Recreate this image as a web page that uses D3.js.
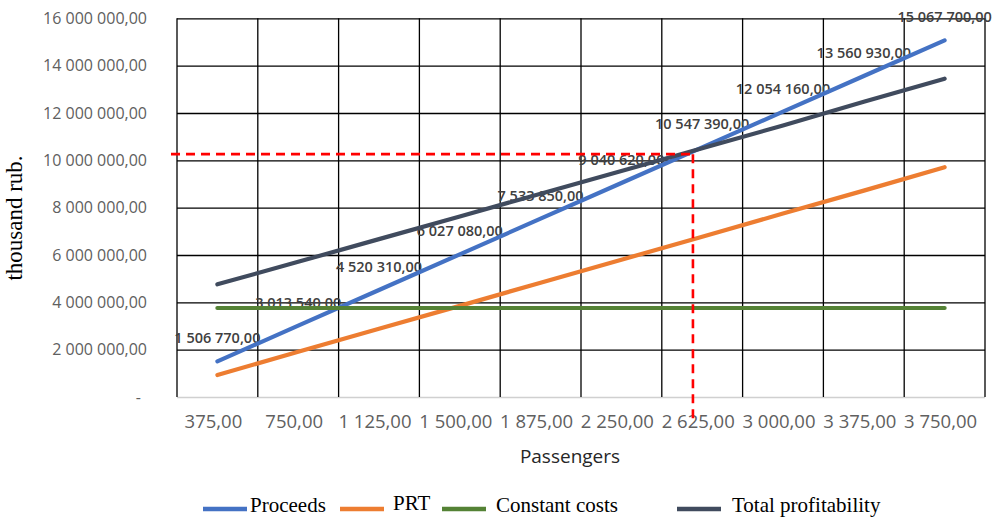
<!DOCTYPE html>
<html><head><meta charset="utf-8">
<script src="https://cdn.jsdelivr.net/npm/d3@7"></script>
<style>body{margin:0;background:#fff} svg{display:block}</style>
</head><body><svg id="c" width="1000" height="521"></svg>
<script>
const passengers = [375, 750, 1125, 1500, 1875, 2250, 2625, 3000, 3375, 3750];
const xTickLabels = ["375,00", "750,00", "1 125,00", "1 500,00", "1 875,00", "2 250,00", "2 625,00", "3 000,00", "3 375,00", "3 750,00"];
const yTickValues = [0, 2000000, 4000000, 6000000, 8000000, 10000000, 12000000, 14000000, 16000000];
const yTickLabels = ["-", "2 000 000,00", "4 000 000,00", "6 000 000,00", "8 000 000,00", "10 000 000,00", "12 000 000,00", "14 000 000,00", "16 000 000,00"];
const proceeds = [1506770, 3013540, 4520310, 6027080, 7533850, 9040620, 10547390, 12054160, 13560930, 15067700];
const proceedsLabels = ["1 506 770,00", "3 013 540,00", "4 520 310,00", "6 027 080,00", "7 533 850,00", "9 040 620,00", "10 547 390,00", "12 054 160,00", "13 560 930,00", "15 067 700,00"];
const prt = [930000, 1910000, 2880000, 3850000, 4830000, 5800000, 6770000, 7750000, 8720000, 9710000];
const constantCosts = [3760000, 3760000, 3760000, 3760000, 3760000, 3760000, 3760000, 3760000, 3760000, 3760000];
const totalProfitability = [4760000, 5710000, 6670000, 7630000, 8590000, 9550000, 10510000, 11470000, 12470000, 13450000];
const seriesNames = ["Proceeds", "PRT", "Constant costs", "Total profitability"];
const breakEvenPassengers = 2582;
const breakEvenValue = 10260000;

const colors = ["#4472C4", "#ED7D31", "#548235", "#404B5E"];
const seriesData = [proceeds, prt, constantCosts, totalProfitability];

const svg = d3.select("#c");
const L = 177, R = 985, T = 18.3, B = 397;

const x = d3.scaleBand().domain(passengers).range([L, R]).padding(0);
const cx = p => x(p) + x.bandwidth() / 2;
const xLin = d3.scaleLinear()
  .domain([passengers[0], passengers[passengers.length - 1]])
  .range([cx(passengers[0]), cx(passengers[passengers.length - 1])]);
const y = d3.scaleLinear().domain([0, 16000000]).range([B, T]);

// Y axis with horizontal gridlines
const yAxis = svg.append("g").attr("transform", `translate(${L},0)`)
  .call(d3.axisLeft(y).tickValues(yTickValues).tickSize(-(R - L)).tickPadding(30)
    .tickFormat((d, i) => yTickLabels[i]));
yAxis.select(".domain").remove();
yAxis.selectAll(".tick line").attr("stroke", d => d === 0 ? "#d0d0d0" : "#000").attr("stroke-width", 1.3);
yAxis.selectAll(".tick text").attr("fill", "#606060").style("font-family", "'Open Sans'").style("font-size", "16px")
  .attr("dx", d => d === 0 ? -6 : 0);

// vertical gridlines at band edges
const edges = passengers.map(p => x(p)).concat([x(passengers[passengers.length - 1]) + x.bandwidth()]);
svg.append("g").selectAll("line").data(edges).join("line")
  .attr("x1", d => d).attr("x2", d => d).attr("y1", T).attr("y2", B)
  .attr("stroke", "#000").attr("stroke-width", 1.3);

// X axis labels
const xAxis = svg.append("g").attr("transform", `translate(0,${B})`)
  .call(d3.axisBottom(x).tickSize(0).tickPadding(18).tickFormat((d, i) => xTickLabels[i]));
xAxis.select(".domain").remove();
xAxis.selectAll(".tick text").attr("fill", "#606060").attr("dx", -4)
  .style("font-family", "'Open Sans'").style("font-size", "18.5px");

// data labels (under lines)
svg.append("g").selectAll("text").data(proceeds).join("text")
  .attr("x", (d, i) => cx(passengers[i])).attr("y", d => y(d) - 18)
  .attr("text-anchor", "middle").attr("fill", "#404040")
  .style("font-family", "'Open Sans'").style("font-size", "14.5px").style("font-weight", "600")
  .text((d, i) => proceedsLabels[i]);

// series lines
const line = d3.line().x((d, i) => cx(passengers[i])).y(d => y(d));
svg.append("g").selectAll("path").data(seriesData).join("path")
  .attr("d", d => line(d)).attr("fill", "none")
  .attr("stroke", (d, i) => colors[i]).attr("stroke-width", 4.2).attr("stroke-linecap", "round");

// break-even dashed lines
const bx = xLin(breakEvenPassengers), by = y(breakEvenValue);
svg.append("line").attr("x1", L - 6).attr("x2", bx).attr("y1", by).attr("y2", by)
  .attr("stroke", "#FF0000").attr("stroke-width", 2.6).attr("stroke-dasharray", "9,6");
svg.append("line").attr("x1", bx).attr("x2", bx).attr("y1", by).attr("y2", 424)
  .attr("stroke", "#FF0000").attr("stroke-width", 2.6).attr("stroke-dasharray", "9,6");

// axis titles
svg.append("text").attr("transform", "translate(22,218) rotate(-90)").attr("text-anchor", "middle")
  .style("font-family", "'Liberation Serif'").style("font-size", "23px").attr("fill", "#000")
  .text("thousand rub.");
svg.append("text").attr("x", 570).attr("y", 463).attr("text-anchor", "middle")
  .style("font-family", "'Open Sans'").style("font-size", "19px").attr("fill", "#262626")
  .text("Passengers");

// legend
const legX = [203, 340, 442, 677];
const legTextX = [250, 393, 496, 732];
const legY = [512, 510, 512, 512];
const leg = svg.append("g").selectAll("g").data(seriesNames).join("g");
leg.append("line").attr("x1", (d, i) => legX[i]).attr("x2", (d, i) => legX[i] + 44)
  .attr("y1", 509).attr("y2", 509).attr("stroke", (d, i) => colors[i]).attr("stroke-width", 4.5);
leg.append("text").attr("x", (d, i) => legTextX[i]).attr("y", (d, i) => legY[i])
  .style("font-family", "'Liberation Serif'").style("font-size", "21px").attr("fill", "#000")
  .text(d => d);
</script></body></html>
